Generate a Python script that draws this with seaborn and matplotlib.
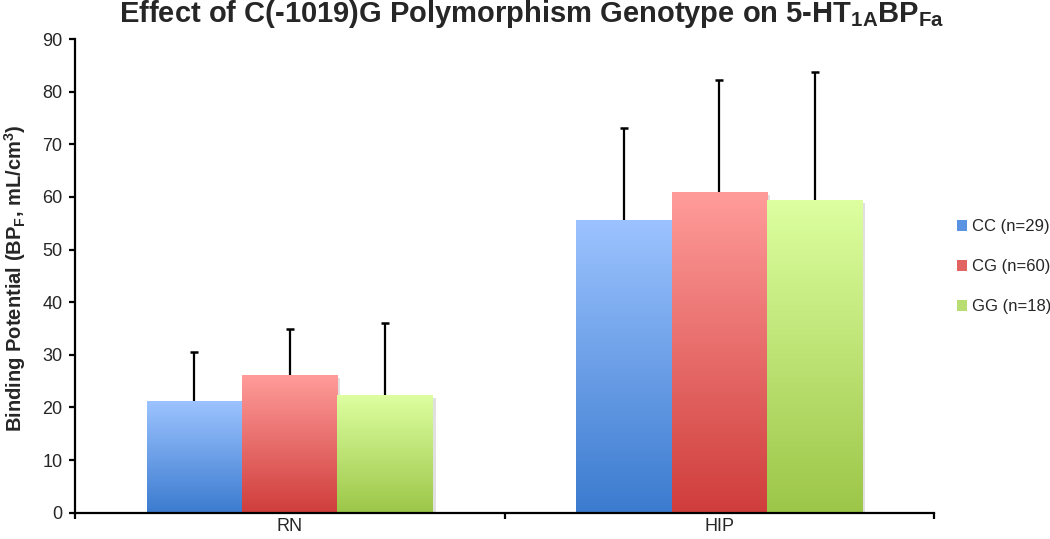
import numpy as np
import pandas as pd
import matplotlib
matplotlib.use("Agg")
import matplotlib.pyplot as plt
import seaborn as sns
from matplotlib import font_manager
from matplotlib.colors import LinearSegmentedColormap
from matplotlib.patches import Patch
import matplotlib.patheffects as pe

# ---- data ----
regions = ["RN", "HIP"]
genotypes = ["CC (n=29)", "CG (n=60)", "GG (n=18)"]
cc_mean = [21.2, 55.7]
cg_mean = [26.2, 60.9]
gg_mean = [22.4, 59.4]
cc_sd = [9.3, 17.3]
cg_sd = [8.7, 21.4]
gg_sd = [13.7, 24.4]
y_ticks = [0, 10, 20, 30, 40, 50, 60, 70, 80, 90]

# gradient colours (top, bottom) per genotype
grad_top = ["#9cc3ff", "#ff9c9a", "#ddffa0"]
grad_bot = ["#3b7bcf", "#cf3d3b", "#9cc648"]
legend_cols = ["#5b93e3", "#e26462", "#b8dd70"]

means = [cc_mean, cg_mean, gg_mean]
sds = [cc_sd, cg_sd, gg_sd]
rows = []
for gi, g in enumerate(genotypes):
    for ri, r in enumerate(regions):
        rows.append({"region": r, "genotype": g, "mean": means[gi][ri], "sd": sds[gi][ri]})
df = pd.DataFrame(rows)

names = {f.name for f in font_manager.fontManager.ttflist}
base_font = "Liberation Sans" if "Liberation Sans" in names else "DejaVu Sans"
title_font = "Liberation Sans Narrow" if "Liberation Sans Narrow" in names else base_font

sns.set_theme(style="white")
plt.rcParams["font.family"] = [base_font, "DejaVu Sans"]
plt.rcParams["mathtext.default"] = "regular"

fig = plt.figure(figsize=(10.5, 5.39), dpi=100)
ax = fig.add_axes([75 / 1050, 1 - 512.7 / 539, (934 - 75) / 1050, (512.7 - 39) / 539])

width = 0.666
sns.barplot(data=df, x="region", y="mean", hue="genotype", order=regions,
            hue_order=genotypes, width=width, gap=0, ax=ax, legend=False,
            palette=grad_bot, saturation=1, errorbar=None, edgecolor="none", linewidth=0)

bw = width / 3
cap_half = 0.0095
grad = np.linspace(1, 0, 256).reshape(-1, 1)
for p in list(ax.patches):
    x0 = p.get_x()
    w = p.get_width()
    h = p.get_height()
    xc = x0 + w / 2
    ci = int(round(xc))
    gi = int(round((xc - ci) / bw + 1))
    cmap = LinearSegmentedColormap.from_list("g", [grad_bot[gi], grad_top[gi]])
    p.set_path_effects([pe.SimplePatchShadow(offset=(2, -2), shadow_rgbFace="black", alpha=0.12), pe.Normal()])
    im = ax.imshow(grad, cmap=cmap, aspect="auto", extent=[x0, x0 + w, 0, h],
                   origin="upper", zorder=p.get_zorder() + 0.1, interpolation="bicubic")
    im.set_clip_path(p)
    err = sds[gi][ci]
    ax.vlines(xc, h, h + err, color="black", linewidth=1.6, zorder=5)
    ax.hlines(h + err, xc - cap_half, xc + cap_half, color="black", linewidth=1.8, zorder=5)

ax.set_xlim(-0.5, 1.5)
ax.set_ylim(0, 90)
ax.set_yticks(y_ticks)
ax.set_yticklabels([str(t) for t in y_ticks], fontsize=13)
ax.set_xticks([-0.5, 0.5, 1.5])
ax.set_xticklabels([])
ax.set_xticks([0, 1], minor=True)
ax.set_xticklabels(regions, minor=True, fontsize=13)
ax.tick_params(axis="x", which="major", direction="out", length=4, width=1.6, color="black", bottom=True)
ax.tick_params(axis="x", which="minor", length=0, pad=4)
ax.tick_params(axis="y", direction="out", length=4, width=1.6, color="black", left=True, pad=5)
for s in ["top", "right"]:
    ax.spines[s].set_visible(False)
for s in ["left", "bottom"]:
    ax.spines[s].set_color("black")
    ax.spines[s].set_linewidth(1.6)
ax.set_xlabel("")
ax.set_ylabel("")
fig.text(15 / 1050, 1 - 278 / 539, r"Binding Potential (BP$_{F}$, mL/cm$^{3}$)",
         rotation=90, ha="center", va="center", fontsize=14.5, fontweight="bold")

fig.text(0.506, 1 - 22 / 539, r"Effect of C(-1019)G Polymorphism Genotype on 5-HT$_{1A}$BP$_{Fa}$",
         ha="center", va="baseline", fontsize=21, fontweight="bold",
         family=[title_font, "DejaVu Sans"])

handles = [Patch(facecolor=c, edgecolor="none") for c in legend_cols]
fig.legend(handles, genotypes, loc="center left", bbox_to_anchor=(0.897, 0.505),
           frameon=False, fontsize=12, handlelength=0.6, handleheight=0.6,
           handletextpad=0.3, labelspacing=1.5)

fig.savefig("out.png", dpi=100)
